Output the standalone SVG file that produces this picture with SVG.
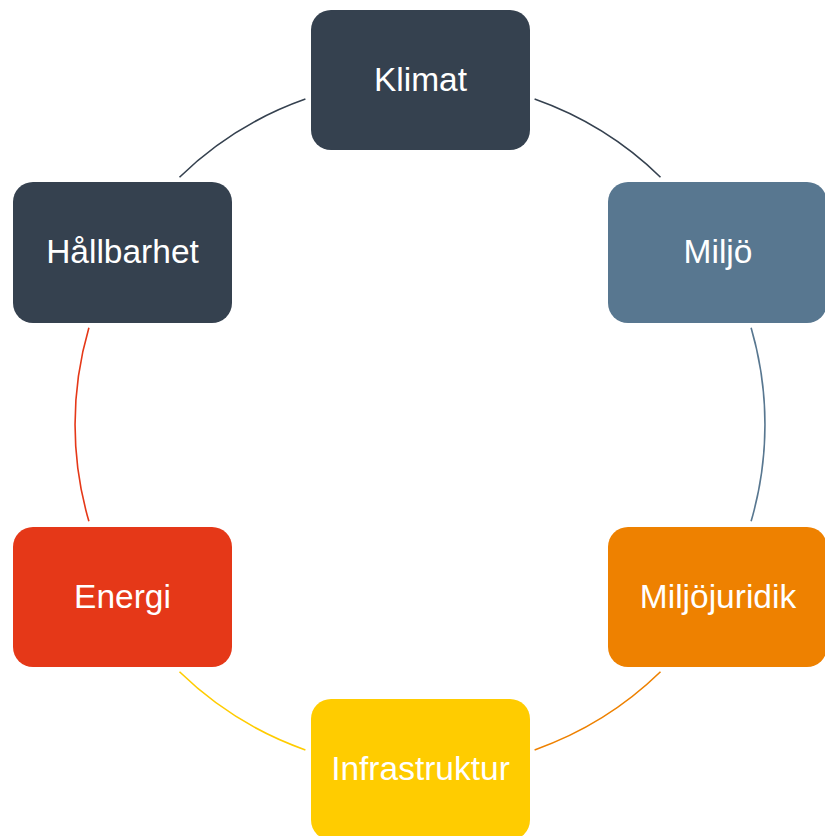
<svg xmlns="http://www.w3.org/2000/svg" width="825" height="836" viewBox="0 0 825 836">
<style>
.box{stroke:none}
.lbl{font-family:"Liberation Sans",Arial,sans-serif;font-size:33.5px;fill:#ffffff;text-anchor:middle}
.arc{fill:none;stroke-width:1.6}
</style>
<rect width="825" height="836" fill="#ffffff"/>
<g id="connectors">
<path class="arc" stroke="#35414f" d="M 534.6 99.1 A 345 345 0 0 1 660.5 177.2"/>
<path class="arc" stroke="#587790" d="M 751.1 327.7 A 345 345 0 0 1 751.1 521.3"/>
<path class="arc" stroke="#ee8100" d="M 660.5 671.8 A 345 345 0 0 1 534.6 749.9"/>
<path class="arc" stroke="#ffcc00" d="M 305.4 749.9 A 345 345 0 0 1 179.5 671.8"/>
<path class="arc" stroke="#e53818" d="M 88.9 521.3 A 345 345 0 0 1 88.9 327.7"/>
<path class="arc" stroke="#35414f" d="M 179.5 177.2 A 345 345 0 0 1 305.4 99.1"/>
</g>
<g id="klimat">
<rect class="box" x="311" y="10" width="219" height="140" rx="20" fill="#35414f"/>
<text class="lbl" x="420.5" y="91">Klimat</text>
</g>
<g id="miljo">
<rect class="box" x="608" y="182" width="219" height="141" rx="20" fill="#587790"/>
<text class="lbl" x="718" y="263">Miljö</text>
</g>
<g id="miljojuridik">
<rect class="box" x="608" y="527" width="219" height="140" rx="20" fill="#ee8100"/>
<text class="lbl" x="718" y="608">Miljöjuridik</text>
</g>
<g id="infrastruktur">
<rect class="box" x="311" y="699" width="219" height="141" rx="20" fill="#ffcc00"/>
<text class="lbl" x="420.5" y="780">Infrastruktur</text>
</g>
<g id="energi">
<rect class="box" x="13" y="527" width="219" height="140" rx="20" fill="#e53818"/>
<text class="lbl" x="122.5" y="608">Energi</text>
</g>
<g id="hallbarhet">
<rect class="box" x="13" y="182" width="219" height="141" rx="20" fill="#35414f"/>
<text class="lbl" x="122.5" y="263">Hållbarhet</text>
</g>
</svg>
